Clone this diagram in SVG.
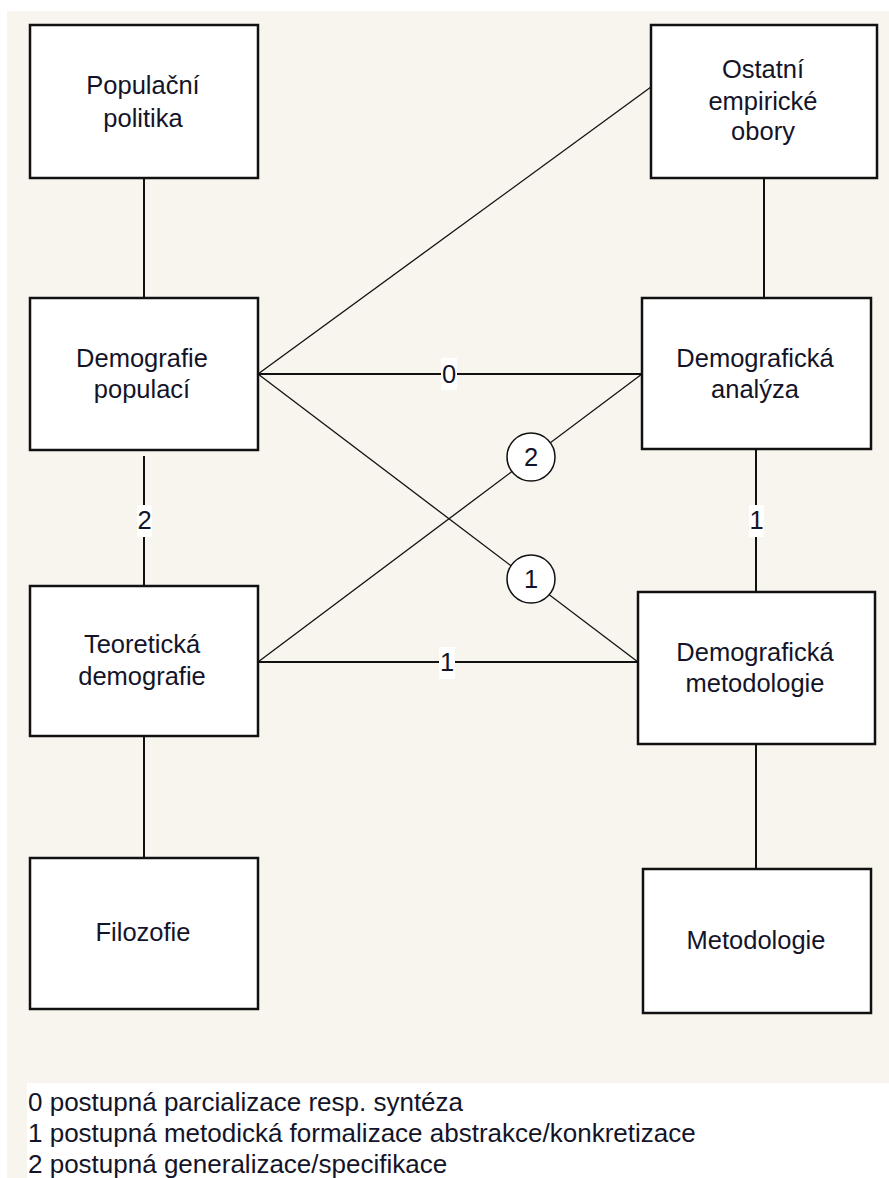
<svg xmlns="http://www.w3.org/2000/svg" width="889" height="1178" viewBox="0 0 889 1178">
<style>
.box{fill:#fff;stroke:#111;stroke-width:2.5}
.t{font-family:"Liberation Sans",Arial,sans-serif;font-size:25.5px;fill:#141428;text-anchor:middle}
.lg{font-family:"Liberation Sans",Arial,sans-serif;font-size:26px;fill:#141428}
.thick{stroke:#111;stroke-width:2;fill:none}
.thin{stroke:#111;stroke-width:1.3;fill:none}
.lbl{fill:#fff}
.circ{fill:#fff;stroke:#111;stroke-width:1.5}
</style>
<rect x="0" y="0" width="889" height="1178" fill="#fff"/>
<rect x="7" y="11" width="882" height="1167" fill="#f8f5ef"/>
<rect x="27" y="1083" width="862" height="95" fill="#fff"/>
<g id="connectors">
<line class="thick" x1="144" y1="178" x2="144" y2="298"/>
<line class="thick" x1="144" y1="456" x2="144" y2="586"/>
<line class="thick" x1="144" y1="736" x2="144" y2="858"/>
<line class="thick" x1="764" y1="178" x2="764" y2="298"/>
<line class="thick" x1="756" y1="449" x2="756" y2="592"/>
<line class="thick" x1="756" y1="744" x2="756" y2="869"/>
<line class="thick" x1="258" y1="374" x2="642" y2="374"/>
<line class="thick" x1="258" y1="662" x2="638" y2="662"/>
<line class="thin" x1="258" y1="374" x2="651" y2="87"/>
<line class="thin" x1="258" y1="374" x2="638" y2="662"/>
<line class="thin" x1="258" y1="662" x2="642" y2="374"/>
<rect class="lbl" x="441" y="358" width="16" height="32"/>
<text class="t" x="449" y="383">0</text>
<rect class="lbl" x="137" y="505" width="15" height="32"/>
<text class="t" x="144.5" y="529">2</text>
<rect class="lbl" x="749" y="505" width="15" height="32"/>
<text class="t" x="756.5" y="529">1</text>
<rect class="lbl" x="439" y="647" width="16" height="32"/>
<text class="t" x="447" y="671">1</text>
<circle class="circ" cx="531" cy="457" r="24"/>
<text class="t" x="531" y="466">2</text>
<circle class="circ" cx="531" cy="579" r="24"/>
<text class="t" x="531" y="588">1</text>
</g>
<g id="populacni-politika">
<rect class="box" x="30" y="25" width="228" height="153"/>
<text class="t" x="143" y="94">Populační</text>
<text class="t" x="143" y="127">politika</text>
</g>
<g id="ostatni-obory">
<rect class="box" x="651" y="25" width="226" height="153"/>
<text class="t" x="763" y="78">Ostatní</text>
<text class="t" x="763" y="110">empirické</text>
<text class="t" x="763" y="140">obory</text>
</g>
<g id="demografie-populaci">
<rect class="box" x="30" y="298" width="228" height="152"/>
<text class="t" x="142" y="367">Demografie</text>
<text class="t" x="142" y="398">populací</text>
</g>
<g id="demograficka-analyza">
<rect class="box" x="642" y="298" width="229" height="151"/>
<text class="t" x="755" y="367">Demografická</text>
<text class="t" x="755" y="398">analýza</text>
</g>
<g id="teoreticka-demografie">
<rect class="box" x="30" y="586" width="228" height="150"/>
<text class="t" x="142" y="653">Teoretická</text>
<text class="t" x="142" y="685">demografie</text>
</g>
<g id="demograficka-metodologie">
<rect class="box" x="638" y="592" width="237" height="152"/>
<text class="t" x="755" y="661">Demografická</text>
<text class="t" x="755" y="692">metodologie</text>
</g>
<g id="filozofie">
<rect class="box" x="30" y="858" width="228" height="151"/>
<text class="t" x="143" y="941">Filozofie</text>
</g>
<g id="metodologie">
<rect class="box" x="643" y="869" width="228" height="144"/>
<text class="t" x="756" y="949">Metodologie</text>
</g>
<g id="legend">
<text class="lg" x="28" y="1111">0 postupná parcializace resp. syntéza</text>
<text class="lg" x="28" y="1142">1 postupná metodická formalizace abstrakce/konkretizace</text>
<text class="lg" x="28" y="1173">2 postupná generalizace/specifikace</text>
</g>
</svg>
